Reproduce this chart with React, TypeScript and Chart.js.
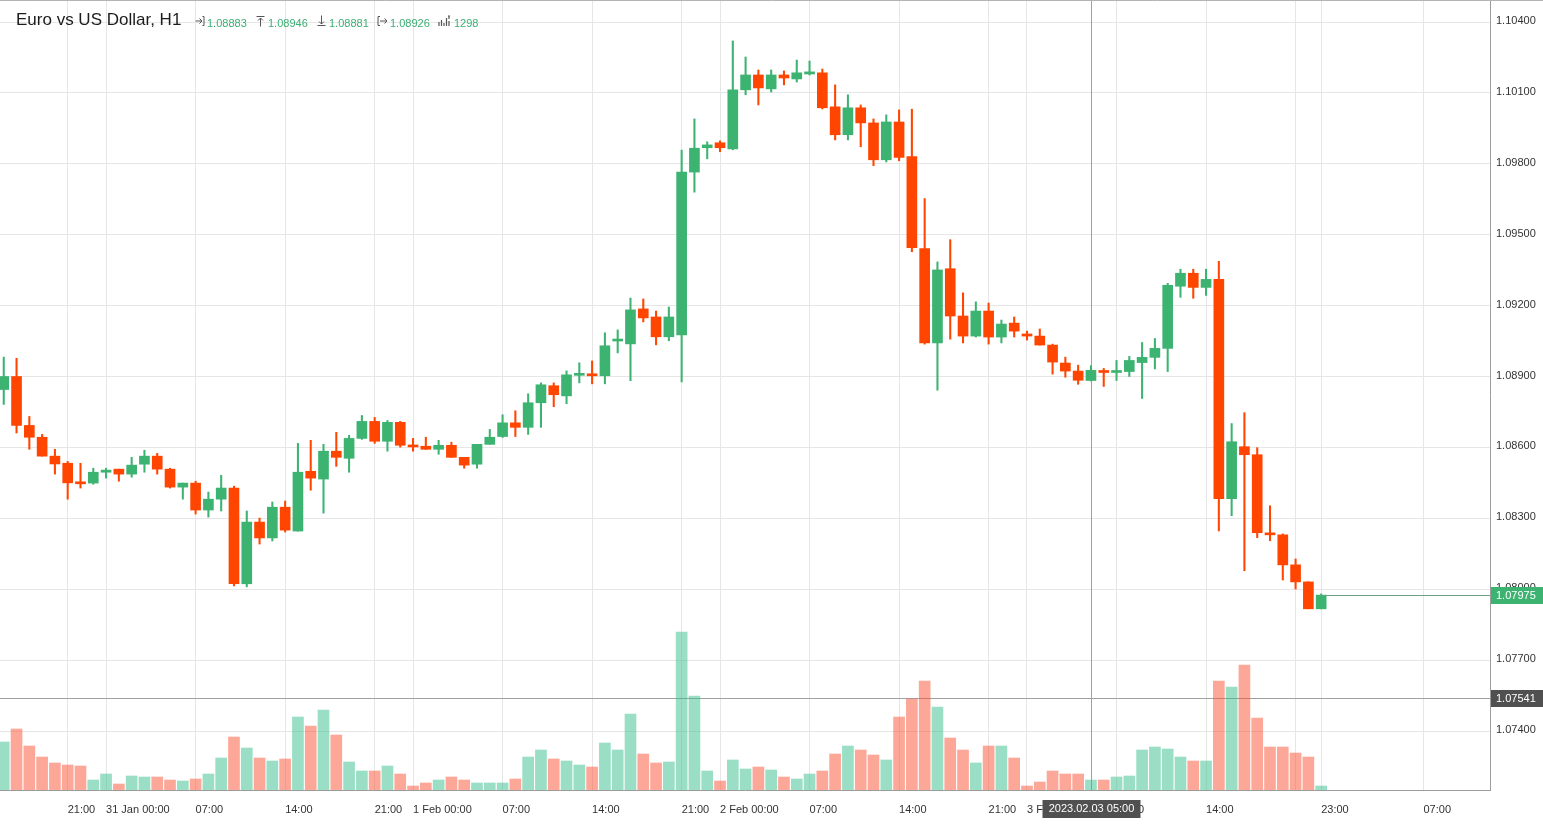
import React, { useEffect, useRef } from 'react';
import { Chart, registerables } from 'chart.js';

Chart.register(...registerables);

// ---- Data (EUR/USD H1, 30 Jan 16:00 -> 3 Feb 23:00) ----
const opens = [
  1.08845, 1.08900, 1.08693, 1.08643, 1.08563, 1.08533, 1.08449, 1.08449, 1.08495, 1.08508,
  1.08487, 1.08529, 1.08563, 1.08508, 1.08432, 1.08449, 1.08335, 1.08381, 1.08428, 1.08023,
  1.08284, 1.08217, 1.08347, 1.08246, 1.08499, 1.08466, 1.08584, 1.08554, 1.08638, 1.08710,
  1.08626, 1.08706, 1.08605, 1.08605, 1.08592, 1.08609, 1.08558, 1.08529, 1.08613, 1.08646,
  1.08704, 1.08685, 1.08789, 1.08861, 1.08818, 1.08905, 1.08911, 1.08903, 1.09050, 1.09038,
  1.09186, 1.09152, 1.09068, 1.09076, 1.09765, 1.09868, 1.09889, 1.09863, 1.10113, 1.10176,
  1.10117, 1.10176, 1.10159, 1.10180, 1.10185, 1.10041, 1.09923, 1.10037, 1.09973, 1.09817,
  1.09977, 1.09831, 1.09441, 1.09042, 1.09356, 1.09156, 1.09071, 1.09177, 1.09067, 1.09126,
  1.09080, 1.09071, 1.09033, 1.08957, 1.08923, 1.08883, 1.08925, 1.08917, 1.08921, 1.08959,
  1.08981, 1.09019, 1.09282, 1.09337, 1.09277, 1.09311, 1.08383, 1.08603, 1.08569, 1.08234,
  1.08230, 1.08103, 1.08031, 1.07917,
];
const highs = [
  1.08982, 1.08977, 1.08731, 1.08655, 1.08592, 1.08541, 1.08533, 1.08512, 1.08512, 1.08508,
  1.08558, 1.08588, 1.08575, 1.08512, 1.08449, 1.08457, 1.08411, 1.08482, 1.08436, 1.08331,
  1.08301, 1.08369, 1.08373, 1.08617, 1.08630, 1.08613, 1.08664, 1.08651, 1.08735, 1.08727,
  1.08714, 1.08710, 1.08638, 1.08643, 1.08630, 1.08622, 1.08558, 1.08613, 1.08676, 1.08738,
  1.08755, 1.08827, 1.08873, 1.08873, 1.08924, 1.08958, 1.08966, 1.09085, 1.09097, 1.09232,
  1.09228, 1.09177, 1.09194, 1.09858, 1.09990, 1.09893, 1.09897, 1.10320, 1.10252, 1.10197,
  1.10197, 1.10193, 1.10239, 1.10235, 1.10201, 1.10134, 1.10092, 1.10049, 1.09990, 1.10007,
  1.10028, 1.10031, 1.09653, 1.09385, 1.09479, 1.09254, 1.09216, 1.09211, 1.09139, 1.09152,
  1.09092, 1.09101, 1.09037, 1.08982, 1.08948, 1.08946, 1.08934, 1.08968, 1.08985, 1.09044,
  1.09061, 1.09294, 1.09354, 1.09354, 1.09354, 1.09387, 1.08701, 1.08747, 1.08599, 1.08353,
  1.08234, 1.08128, 1.08031, 1.07980,
];
const lows = [
  1.08782, 1.08661, 1.08592, 1.08563, 1.08487, 1.08381, 1.08428, 1.08444, 1.08470, 1.08457,
  1.08474, 1.08495, 1.08487, 1.08428, 1.08381, 1.08318, 1.08305, 1.08331, 1.08014, 1.08010,
  1.08191, 1.08204, 1.08242, 1.08246, 1.08419, 1.08322, 1.08520, 1.08495, 1.08634, 1.08617,
  1.08584, 1.08601, 1.08584, 1.08592, 1.08571, 1.08558, 1.08512, 1.08512, 1.08613, 1.08642,
  1.08646, 1.08655, 1.08685, 1.08772, 1.08785, 1.08873, 1.08869, 1.08869, 1.09000, 1.08882,
  1.09131, 1.09034, 1.09051, 1.08877, 1.09680, 1.09821, 1.09851, 1.09859, 1.10092, 1.10049,
  1.10104, 1.10134, 1.10146, 1.10176, 1.10032, 1.09901, 1.09901, 1.09872, 1.09792, 1.09808,
  1.09813, 1.09428, 1.09037, 1.08842, 1.09058, 1.09042, 1.09067, 1.09037, 1.09042, 1.09067,
  1.09054, 1.09033, 1.08910, 1.08897, 1.08867, 1.08881, 1.08858, 1.08883, 1.08900, 1.08807,
  1.08932, 1.08921, 1.09235, 1.09231, 1.09243, 1.08247, 1.08311, 1.08078, 1.08218, 1.08205,
  1.08039, 1.08001, 1.07917, 1.07917,
];
const closes = [
  1.08900, 1.08693, 1.08643, 1.08563, 1.08530, 1.08450, 1.08446, 1.08495, 1.08504, 1.08487,
  1.08525, 1.08563, 1.08508, 1.08432, 1.08449, 1.08335, 1.08381, 1.08428, 1.08023, 1.08284,
  1.08217, 1.08347, 1.08250, 1.08495, 1.08470, 1.08584, 1.08558, 1.08638, 1.08710, 1.08626,
  1.08706, 1.08609, 1.08602, 1.08592, 1.08609, 1.08558, 1.08525, 1.08613, 1.08643, 1.08704,
  1.08685, 1.08789, 1.08865, 1.08823, 1.08907, 1.08908, 1.08903, 1.09030, 1.09053, 1.09182,
  1.09148, 1.09068, 1.09152, 1.09765, 1.09866, 1.09880, 1.09868, 1.10113, 1.10176, 1.10121,
  1.10176, 1.10163, 1.10185, 1.10189, 1.10037, 1.09923, 1.10037, 1.09973, 1.09817, 1.09977,
  1.09827, 1.09445, 1.09042, 1.09351, 1.09156, 1.09071, 1.09177, 1.09067, 1.09122, 1.09092,
  1.09071, 1.09033, 1.08961, 1.08923, 1.08884, 1.08926, 1.08917, 1.08921, 1.08968, 1.08981,
  1.09019, 1.09286, 1.09337, 1.09277, 1.09311, 1.08383, 1.08624, 1.08569, 1.08239, 1.08230,
  1.08103, 1.08031, 1.07917, 1.07975,
];
const volumes = [
  6240, 7930, 5720, 4290, 3510, 3250, 3120, 1300, 2080, 780,
  1820, 1690, 1690, 1300, 1170, 1430, 2080, 4160, 6890, 5460,
  4160, 3770, 4030, 9490, 8320, 10400, 7150, 3640, 2470, 2470,
  3120, 2080, 520, 910, 1300, 1690, 1300, 910, 910, 910,
  1430, 4290, 5200, 4030, 3770, 3250, 2990, 6110, 5200, 9880,
  4680, 3510, 3640, 20540, 12220, 2470, 1170, 3900, 2730, 2990,
  2600, 1690, 1430, 2080, 2470, 4680, 5720, 5200, 4550, 3900,
  9490, 11830, 14170, 10790, 6760, 5200, 3510, 5720, 5720, 4160,
  520, 1040, 2470, 2080, 2080, 1298, 1300, 1690, 1820, 5200,
  5590, 5330, 4290, 3770, 3770, 14170, 13390, 16250, 9360, 5590,
  5590, 4810, 4290, 520,
];

const timeTickIndex = [5, 8, 15, 22, 29, 32, 39, 46, 53, 56, 63, 70, 77, 80, 87, 94, 101, 103, 111];
const timeTickLabels = [
  '21:00', '31 Jan 00:00', '07:00', '14:00', '21:00', '1 Feb 00:00', '07:00', '14:00', '21:00',
  '2 Feb 00:00', '07:00', '14:00', '21:00', '3 Feb 00:00', '07:00', '14:00', '', '23:00', '07:00',
];
const priceTicks = [1.074, 1.077, 1.08, 1.083, 1.086, 1.089, 1.092, 1.095, 1.098, 1.101, 1.104];

const symbolTitle = 'Euro vs US Dollar, H1';
const lastPrice = 1.07975;
const crossPrice = 1.07541;
const crossIndex = 85;
const crossTimeLabel = '2023.02.03 05:00';

// ---- Styles ----
const GREEN = '#3cb371';
const RED = '#ff4500';
const VOL_GREEN = 'rgba(52,190,140,0.5)';
const VOL_RED = 'rgba(250,80,50,0.5)';
const GRID = '#e6e6e6';
const FRAME = '#9c9c9c';
const AXIS_FONT = '"Liberation Sans", Arial, sans-serif';

const IconOpen = () => (
  <svg width="10" height="12" viewBox="0 0 10 12" style={{ position: 'absolute', left: 195, top: 15 }}>
    <path d="M0.5 6H7M4.5 3.5L7 6L4.5 8.5M9 1.5V10.5M7.5 1.5H9M7.5 10.5H9" stroke="#555" strokeWidth="1" fill="none" />
  </svg>
);
const IconHigh = () => (
  <svg width="9" height="12" viewBox="0 0 9 12" style={{ position: 'absolute', left: 256, top: 15 }}>
    <path d="M0.5 1.5H8.5M4.5 3V11.5M2 5.5L4.5 3L7 5.5" stroke="#555" strokeWidth="1" fill="none" />
  </svg>
);
const IconLow = () => (
  <svg width="9" height="12" viewBox="0 0 9 12" style={{ position: 'absolute', left: 317, top: 15 }}>
    <path d="M0.5 10.5H8.5M4.5 0.5V9M2 6.5L4.5 9L7 6.5" stroke="#555" strokeWidth="1" fill="none" />
  </svg>
);
const IconClose = () => (
  <svg width="11" height="12" viewBox="0 0 11 12" style={{ position: 'absolute', left: 377, top: 15 }}>
    <path d="M1 1.5V10.5M1 1.5H3M1 10.5H3M3 6H10M7.5 3.5L10 6L7.5 8.5" stroke="#555" strokeWidth="1" fill="none" />
  </svg>
);
const IconVolume = () => (
  <svg width="13" height="12" viewBox="0 0 13 12" style={{ position: 'absolute', left: 438, top: 15 }}>
    <path d="M1 11V7M3.5 11V5M6 11V8M8.5 11V3M11 11V6M10 1H12M11 1V4" stroke="#555" strokeWidth="1.2" fill="none" />
  </svg>
);

export default function App() {
  const canvasRef = useRef<HTMLCanvasElement | null>(null);

  useEffect(() => {
    const canvas = canvasRef.current;
    if (!canvas) return;
    const idx = opens.map((_, i) => i);
    const isUp = idx.map((i) => closes[i] >= opens[i]);

    const overlay = {
      id: 'overlay',
      beforeDatasetsDraw(chart: any) {
        const { ctx, chartArea, scales } = chart;
        const xs = scales.x;
        const ys = scales.y;
        ctx.save();
        ctx.strokeStyle = '#a0a0a0';
        ctx.lineWidth = 1;
        const cx = Math.round(xs.getPixelForValue(crossIndex)) + 0.5;
        ctx.beginPath();
        ctx.moveTo(cx, chartArea.top);
        ctx.lineTo(cx, chartArea.bottom);
        ctx.stroke();
        const cy = Math.round(ys.getPixelForValue(crossPrice)) + 0.5;
        ctx.beginPath();
        ctx.moveTo(chartArea.left, cy);
        ctx.lineTo(chartArea.right, cy);
        ctx.stroke();
        ctx.restore();
      },
      afterDraw(chart: any) {
        const { ctx, chartArea, scales, width } = chart;
        const xs = scales.x;
        const ys = scales.y;
        ctx.save();
        // top frame line
        ctx.strokeStyle = '#b4b4b4';
        ctx.lineWidth = 1;
        ctx.beginPath();
        ctx.moveTo(0, 0.5);
        ctx.lineTo(width, 0.5);
        ctx.stroke();

        // last price line
        const py = Math.round(ys.getPixelForValue(lastPrice)) + 0.5;
        const lastX = xs.getPixelForValue(opens.length - 1);
        ctx.strokeStyle = '#6e9f84';
        ctx.beginPath();
        ctx.moveTo(lastX, py);
        ctx.lineTo(chartArea.right, py);
        ctx.stroke();

        ctx.font = `11px ${AXIS_FONT}`;
        ctx.textBaseline = 'middle';
        ctx.textAlign = 'left';
        // last price box
        ctx.fillStyle = GREEN;
        ctx.fillRect(chartArea.right + 1, py - 8.5, width - chartArea.right - 1, 17);
        ctx.fillStyle = '#ffffff';
        ctx.fillText(lastPrice.toFixed(5), chartArea.right + 6, py);

        // crosshair price box
        const cy = Math.round(ys.getPixelForValue(crossPrice)) + 0.5;
        ctx.fillStyle = '#505050';
        ctx.fillRect(chartArea.right + 1, cy - 8.5, width - chartArea.right - 1, 17);
        ctx.fillStyle = '#ffffff';
        ctx.fillText(crossPrice.toFixed(5), chartArea.right + 6, cy);

        // crosshair time box
        const cx = Math.round(xs.getPixelForValue(crossIndex)) + 0.5;
        ctx.fillStyle = '#505050';
        ctx.fillRect(cx - 49, chartArea.bottom + 10, 98, 18);
        ctx.fillStyle = '#ffffff';
        ctx.textAlign = 'center';
        ctx.fillText(crossTimeLabel, cx, chartArea.bottom + 19);
        ctx.restore();
      },
    };

    const chart = new Chart(canvas, {
      type: 'bar',
      data: {
        datasets: [
          {
            label: 'Body',
            data: idx.map((i) => ({ x: i, y: [opens[i], closes[i]] })) as any,
            backgroundColor: idx.map((i) => (isUp[i] ? GREEN : RED)),
            barThickness: 10,
            minBarLength: 2,
            yAxisID: 'y',
            order: 1,
          },
          {
            label: 'Wick',
            data: idx.map((i) => ({ x: i, y: [lows[i], highs[i]] })) as any,
            backgroundColor: idx.map((i) => (isUp[i] ? GREEN : RED)),
            barThickness: 1.4,
            yAxisID: 'y',
            order: 2,
          },
          {
            label: 'Volume',
            data: idx.map((i) => ({ x: i, y: volumes[i] })) as any,
            backgroundColor: idx.map((i) => (isUp[i] ? VOL_GREEN : VOL_RED)),
            barThickness: 11,
            yAxisID: 'yv',
            order: 3,
          },
        ],
      },
      options: {
        animation: false,
        responsive: false,
        devicePixelRatio: 1,
        events: [],
        layout: { padding: 0 },
        datasets: { bar: { grouped: false } },
        plugins: { legend: { display: false }, tooltip: { enabled: false }, title: { display: false } },
        scales: {
          x: {
            type: 'linear',
            min: -0.293,
            max: 116.2,
            offset: false,
            grid: { offset: false, color: GRID, drawTicks: false },
            border: { display: true, color: FRAME },
            ticks: {
              autoSkip: false,
              maxRotation: 0,
              align: 'start',
              padding: 13,
              color: '#333333',
              font: { family: AXIS_FONT, size: 11 },
              callback: (_v: any, i: number) => timeTickLabels[i],
            },
            afterBuildTicks: (s: any) => {
              s.ticks = timeTickIndex.map((v) => ({ value: v }));
            },
            afterFit: (s: any) => {
              s.height = 35;
              s.paddingLeft = 0;
              s.paddingRight = 0;
            },
          } as any,
          y: {
            type: 'linear',
            position: 'right',
            min: 1.071504,
            max: 1.104931,
            grid: { color: GRID, drawTicks: false },
            border: { display: true, color: FRAME },
            ticks: {
              padding: 6,
              labelOffset: -1,
              color: '#333333',
              font: { family: AXIS_FONT, size: 11 },
              callback: (v: any) => Number(v).toFixed(5),
            },
            afterBuildTicks: (s: any) => {
              s.ticks = priceTicks.map((v) => ({ value: v }));
            },
            afterFit: (s: any) => {
              s.width = 53;
              s.paddingTop = 0;
              s.paddingBottom = 0;
            },
          } as any,
          yv: {
            type: 'linear',
            display: false,
            min: 0,
            max: 102700,
          },
        },
      } as any,
      plugins: [overlay],
    });
    return () => chart.destroy();
  }, []);

  const valStyle: React.CSSProperties = {
    position: 'absolute',
    top: 16,
    font: `11px ${AXIS_FONT}`,
    lineHeight: '14px',
    color: '#3aaf74',
    whiteSpace: 'nowrap',
  };
  const k = crossIndex;

  return (
    <div style={{ position: 'fixed', left: 0, top: 0, width: 1543, height: 825, background: '#ffffff', overflow: 'hidden' }}>
      <canvas ref={canvasRef} width={1543} height={825} style={{ position: 'absolute', left: 0, top: 0 }} />
      <div
        style={{
          position: 'absolute',
          left: 16,
          top: 10,
          font: `17px ${AXIS_FONT}`,
          lineHeight: '20px',
          color: '#1c1c1c',
          whiteSpace: 'nowrap',
        }}
      >
        {symbolTitle}
      </div>
      <IconOpen />
      <span style={{ ...valStyle, left: 207 }}>{opens[k].toFixed(5)}</span>
      <IconHigh />
      <span style={{ ...valStyle, left: 268 }}>{highs[k].toFixed(5)}</span>
      <IconLow />
      <span style={{ ...valStyle, left: 329 }}>{lows[k].toFixed(5)}</span>
      <IconClose />
      <span style={{ ...valStyle, left: 390 }}>{closes[k].toFixed(5)}</span>
      <IconVolume />
      <span style={{ ...valStyle, left: 454 }}>{String(volumes[k])}</span>
    </div>
  );
}
